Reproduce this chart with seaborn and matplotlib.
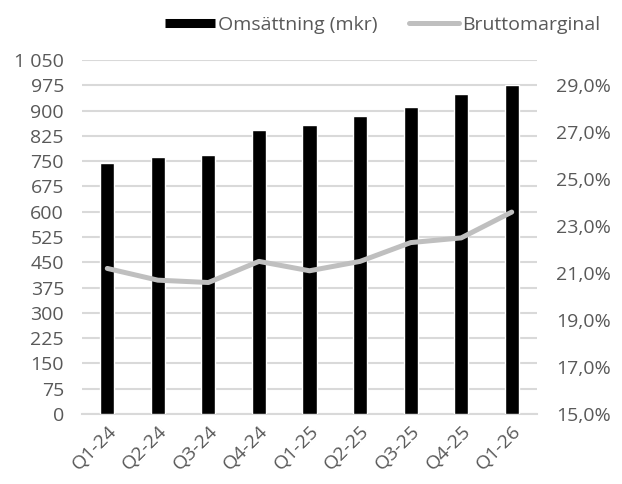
import numpy as np
import pandas as pd
import seaborn as sns
from matplotlib import pyplot as plt
from matplotlib.lines import Line2D
from matplotlib.ticker import FuncFormatter

#
quarters = ["Q1-24", "Q2-24", "Q3-24", "Q4-24", "Q1-25", "Q2-25", "Q3-25", "Q4-25", "Q1-26"]
revenue = [745, 762, 768, 842, 857, 884, 911, 949, 976]
gross_margin = [21.2, 20.7, 20.6, 21.5, 21.1, 21.5, 22.3, 22.5, 23.6]

df = pd.DataFrame({"quarter": quarters, "revenue": revenue, "margin": gross_margin})

TEXT = "#595959"
GRID = "#d9d9d9"
FS = 14

sns.set_style("white")
plt.rcParams["font.family"] = ["Open Sans", "DejaVu Sans"]
plt.rcParams["font.size"] = FS

fig = plt.figure(figsize=(6.22, 4.84), dpi=100)
ax = fig.add_axes([82 / 622, 70 / 484, 455 / 622, 354 / 484])

sns.barplot(data=df, x="quarter", y="revenue", color="black", width=0.28,
            saturation=1, ax=ax, zorder=3)
ax.set_xlim(-0.5, len(quarters) - 0.5)
ax.set_ylim(0, 1050)
ax.set_yticks(np.arange(0, 1051, 75))
ax.yaxis.set_major_formatter(FuncFormatter(lambda v, p: f"{int(v):,}".replace(",", " ")))
ax.grid(axis="y", color=GRID, linewidth=1.5, zorder=0)
ax.set_axisbelow(True)
for s in ["top", "right", "left"]:
    ax.spines[s].set_visible(False)
ax.spines["bottom"].set_color(GRID)
ax.spines["bottom"].set_linewidth(1.5)
ax.set_xlabel("")
ax.set_ylabel("")
ax.tick_params(axis="y", length=0, colors=TEXT, labelsize=FS, pad=13)
ax.tick_params(axis="x", which="major", length=0, colors=TEXT, labelsize=FS, pad=6)
ax.set_xticks(np.arange(-0.5, len(quarters)), minor=True)
ax.tick_params(axis="x", which="minor", length=6, width=1.5, color=GRID)
plt.setp(ax.get_xticklabels(), rotation=45, ha="right", rotation_mode="anchor")

#
ax2 = ax.twinx()
sns.lineplot(data=df, x="quarter", y="margin", color="#bfbfbf", linewidth=3.6, ax=ax2)
ax2.set_ylim(15, 15 + 14 * 1050 / 975)
ax2.set_yticks(np.arange(15, 30, 2))
ax2.yaxis.set_major_formatter(FuncFormatter(lambda v, p: f"{v:.1f}%".replace(".", ",")))
ax2.tick_params(axis="y", length=0, colors=TEXT, labelsize=FS, pad=14)
ax2.set_ylabel("")
for s in ["top", "right", "left", "bottom"]:
    ax2.spines[s].set_visible(False)
ax.set_xlim(-0.5, len(quarters) - 0.5)

handles = [Line2D([0], [0], color="black", linewidth=6.5, solid_capstyle="butt"),
           Line2D([0], [0], color="#bfbfbf", linewidth=3.6, solid_capstyle="round")]
fig.legend(handles, ["Omsättning (mkr)", "Bruttomarginal"], loc="center",
           bbox_to_anchor=(0.615, 0.948), ncol=2, frameon=False, fontsize=FS,
           labelcolor=TEXT, handlelength=2.6, handletextpad=0.15, columnspacing=1.6)

fig.savefig("out.png", dpi=100)
